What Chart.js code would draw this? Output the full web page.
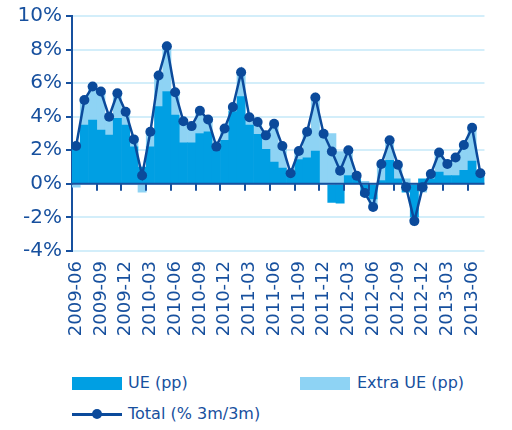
<!DOCTYPE html>
<html>
<head>
<meta charset="utf-8">
<script src="https://cdn.jsdelivr.net/npm/chart.js@4/dist/chart.umd.min.js"></script>
<style>
    body { margin: 0; background: #fff; font-family: 'DejaVu Sans', sans-serif; }
    #wrap { position: relative; width: 512px; height: 430px; }
    #chart { position: absolute; left: 0; top: 0; }
    .legend-item { position: absolute; color: #17509e; font-size: 16px; line-height: 20px; white-space: nowrap; }
    .swatch { position: absolute; width: 50px; height: 13px; }
    .line-key { position: absolute; width: 50px; height: 3px; background: #0b4a9b; }
    .line-key span { position: absolute; left: 20px; top: -4px; width: 10px; height: 10px; border-radius: 50%; background: #0b4a9b; }
</style>
</head>
<body>
<div id="wrap">
    <canvas id="chart" width="512" height="355"></canvas>
    <div class="swatch" style="left:72px; top:377px; background:#009fe3;"></div>
    <div class="legend-item" style="left:128px; top:373px;">UE (pp)</div>
    <div class="swatch" style="left:300px; top:377px; background:#8ed3f4;"></div>
    <div class="legend-item" style="left:357px; top:373px;">Extra UE (pp)</div>
    <div class="line-key" style="left:72px; top:413px;"><span></span></div>
    <div class="legend-item" style="left:128px; top:404px;">Total (% 3m/3m)</div>
</div>
<script>
const months = [
    '2009-06', '2009-07', '2009-08', '2009-09', '2009-10', '2009-11', '2009-12',
    '2010-01', '2010-02', '2010-03', '2010-04', '2010-05', '2010-06', '2010-07', '2010-08', '2010-09', '2010-10', '2010-11', '2010-12',
    '2011-01', '2011-02', '2011-03', '2011-04', '2011-05', '2011-06', '2011-07', '2011-08', '2011-09', '2011-10', '2011-11', '2011-12',
    '2012-01', '2012-02', '2012-03', '2012-04', '2012-05', '2012-06', '2012-07', '2012-08', '2012-09', '2012-10', '2012-11', '2012-12',
    '2013-01', '2013-02', '2013-03', '2013-04', '2013-05', '2013-06', '2013-07'
];

// contributions in percentage points
const ueValues = [2.4, 3.5, 3.8, 3.2, 2.9, 3.9, 3.5, 2.2, 1.0, 2.2,
    4.6, 5.5, 4.1, 2.45, 2.45, 3.0, 3.1, 2.1, 2.6, 4.3,
    5.2, 3.5, 2.95, 2.06, 1.3, 0.94, 0.6, 1.45, 1.55, 1.96,
    0, -1.1, -1.15, 0.5, 0.3, -0.7, -0.9, 0.2, 1.4, 0.3,
    -0.5, -1.95, 0.3, 0.3, 0.7, 0.5, 0.5, 0.8, 1.35, 0.5];

const extraValues = [-0.2, 1.5, 2.0, 2.3, 1.1, 1.5, 0.8, 0.5, -0.5, 0.9,
    1.85, 2.7, 1.4, 1.28, 1.0, 1.36, 0.73, 0.1, 0.7, 0.3,
    1.45, 0.5, 0.73, 0.83, 2.3, 1.3, 0.05, 0.5, 1.55, 3.2,
    2.99, 3.0, 1.93, 1.5, 0.2, 0.15, -0.5, 1.0, 1.2, 0.85,
    0.3, -0.25, -0.5, 0.3, 1.15, 0.7, 1.05, 1.55, 2.0, 0.15];

// total, % 3m/3m
const totalValues = [2.26, 5.0, 5.8, 5.5, 4.0, 5.4, 4.3, 2.65, 0.5, 3.1,
    6.45, 8.2, 5.46, 3.73, 3.44, 4.36, 3.83, 2.22, 3.3, 4.58,
    6.65, 3.97, 3.68, 2.89, 3.58, 2.26, 0.63, 1.96, 3.1, 5.15,
    2.99, 1.93, 0.78, 2.0, 0.49, -0.55, -1.38, 1.18, 2.6, 1.14,
    -0.2, -2.22, -0.2, 0.59, 1.87, 1.18, 1.57, 2.32, 3.34, 0.63];

const yTicks = [-4, -2, 0, 2, 4, 6, 8, 10];

const DARK = '#17509e';
const LINE = '#0b4a9b';
const GRID = '#d3eefa';
const FONT = 'DejaVu Sans';

// zero line and small x ticks, drawn over the bars but under the total line
const zeroLinePlugin = {
    id: 'zeroLine',
    beforeDatasetDraw(chart, args) {
        if (args.index !== 0) return;
        const { ctx, chartArea, scales } = chart;
        const y0 = scales.y.getPixelForValue(0);
        ctx.save();
        ctx.strokeStyle = DARK;
        ctx.lineWidth = 2;
        ctx.beginPath();
        ctx.moveTo(chartArea.left, y0);
        ctx.lineTo(chartArea.right, y0);
        for (let i = 3; i < months.length; i += 3) {
            const x = Math.round((scales.x.getPixelForValue(i - 1) + scales.x.getPixelForValue(i)) / 2);
            ctx.moveTo(x, y0);
            ctx.lineTo(x, y0 + 7);
        }
        ctx.stroke();
        ctx.restore();
    }
};

new Chart(document.getElementById('chart'), {
    type: 'bar',
    data: {
        labels: months,
        datasets: [
            {
                type: 'line',
                label: 'Total (% 3m/3m)',
                data: totalValues,
                borderColor: LINE,
                backgroundColor: LINE,
                borderWidth: 2.5,
                pointRadius: 5,
                pointBackgroundColor: LINE,
                pointBorderWidth: 0,
                tension: 0,
                order: 0
            },
            {
                label: 'UE (pp)',
                data: ueValues,
                backgroundColor: '#009fe3',
                stack: 'contrib',
                barPercentage: 1,
                categoryPercentage: 1,
                borderWidth: 0,
                order: 1
            },
            {
                label: 'Extra UE (pp)',
                data: extraValues,
                backgroundColor: '#8ed3f4',
                stack: 'contrib',
                barPercentage: 1,
                categoryPercentage: 1,
                borderWidth: 0,
                order: 1
            }
        ]
    },
    options: {
        responsive: false,
        animation: false,
        layout: { padding: { left: 0, right: 5, top: 14, bottom: 0 } },
        plugins: {
            legend: { display: false },
            tooltip: { enabled: false }
        },
        scales: {
            x: {
                stacked: true,
                grid: { display: false, drawTicks: false },
                border: { display: false },
                ticks: {
                    autoSkip: false,
                    minRotation: 90,
                    maxRotation: 90,
                    padding: 10,
                    color: DARK,
                    font: { family: FONT, size: 18 },
                    callback: (v, i) => (i % 3 === 0 ? months[i] : '')
                },
                afterFit: (scale) => { scale.height = 104; }
            },
            y: {
                stacked: true,
                min: -4,
                max: 10,
                afterBuildTicks: (scale) => { scale.ticks = yTicks.map(v => ({ value: v })); },
                grid: {
                    color: GRID,
                    lineWidth: 2,
                    tickColor: DARK,
                    tickLength: 6
                },
                border: { color: DARK, width: 2 },
                ticks: {
                    padding: 4,
                    color: DARK,
                    font: { family: FONT, size: 20 },
                    callback: (v) => v + '%'
                },
                afterFit: (scale) => { scale.width = 72; }
            }
        }
    },
    plugins: [zeroLinePlugin]
});
</script>
</body>
</html>
